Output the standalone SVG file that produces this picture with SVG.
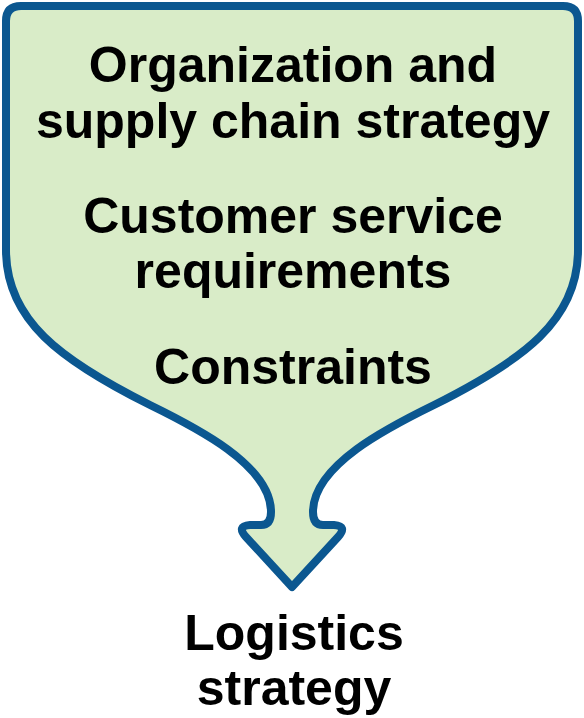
<svg xmlns="http://www.w3.org/2000/svg" width="584" height="718" viewBox="0 0 584 718">
  <style>
    .shape { fill: #d9ecc8; stroke: #0b5790; stroke-width: 8; stroke-linejoin: round; }
    .t { font-family: "Liberation Sans", Arial, sans-serif; font-weight: bold; font-size: 50px; fill: #000; text-anchor: middle; }
  </style>
  <g id="funnel">
    <path class="shape" d="M 21,6 H 563 Q 578,6 578,21 V 250 C 578,320 524,360 434,405 C 389,427 313,465 313,512 Q 313,525 323,525 H 334 Q 348,526 338,537 L 292,587 L 246,537 Q 236,526 250,525 H 261 Q 271,525 271,512 C 271,465 195,427 150,405 C 60,360 6,320 6,250 V 21 Q 6,6 21,6 Z"/>
    <text class="t" x="293" y="82">Organization and</text>
    <text class="t" x="293" y="138">supply chain strategy</text>
    <text class="t" x="293" y="233">Customer service</text>
    <text class="t" x="293" y="288">requirements</text>
    <text class="t" x="293" y="384">Constraints</text>
  </g>
  <g id="output">
    <text class="t" x="294" y="650">Logistics</text>
    <text class="t" x="294" y="705">strategy</text>
  </g>
  <g id="connectors"></g>
</svg>
